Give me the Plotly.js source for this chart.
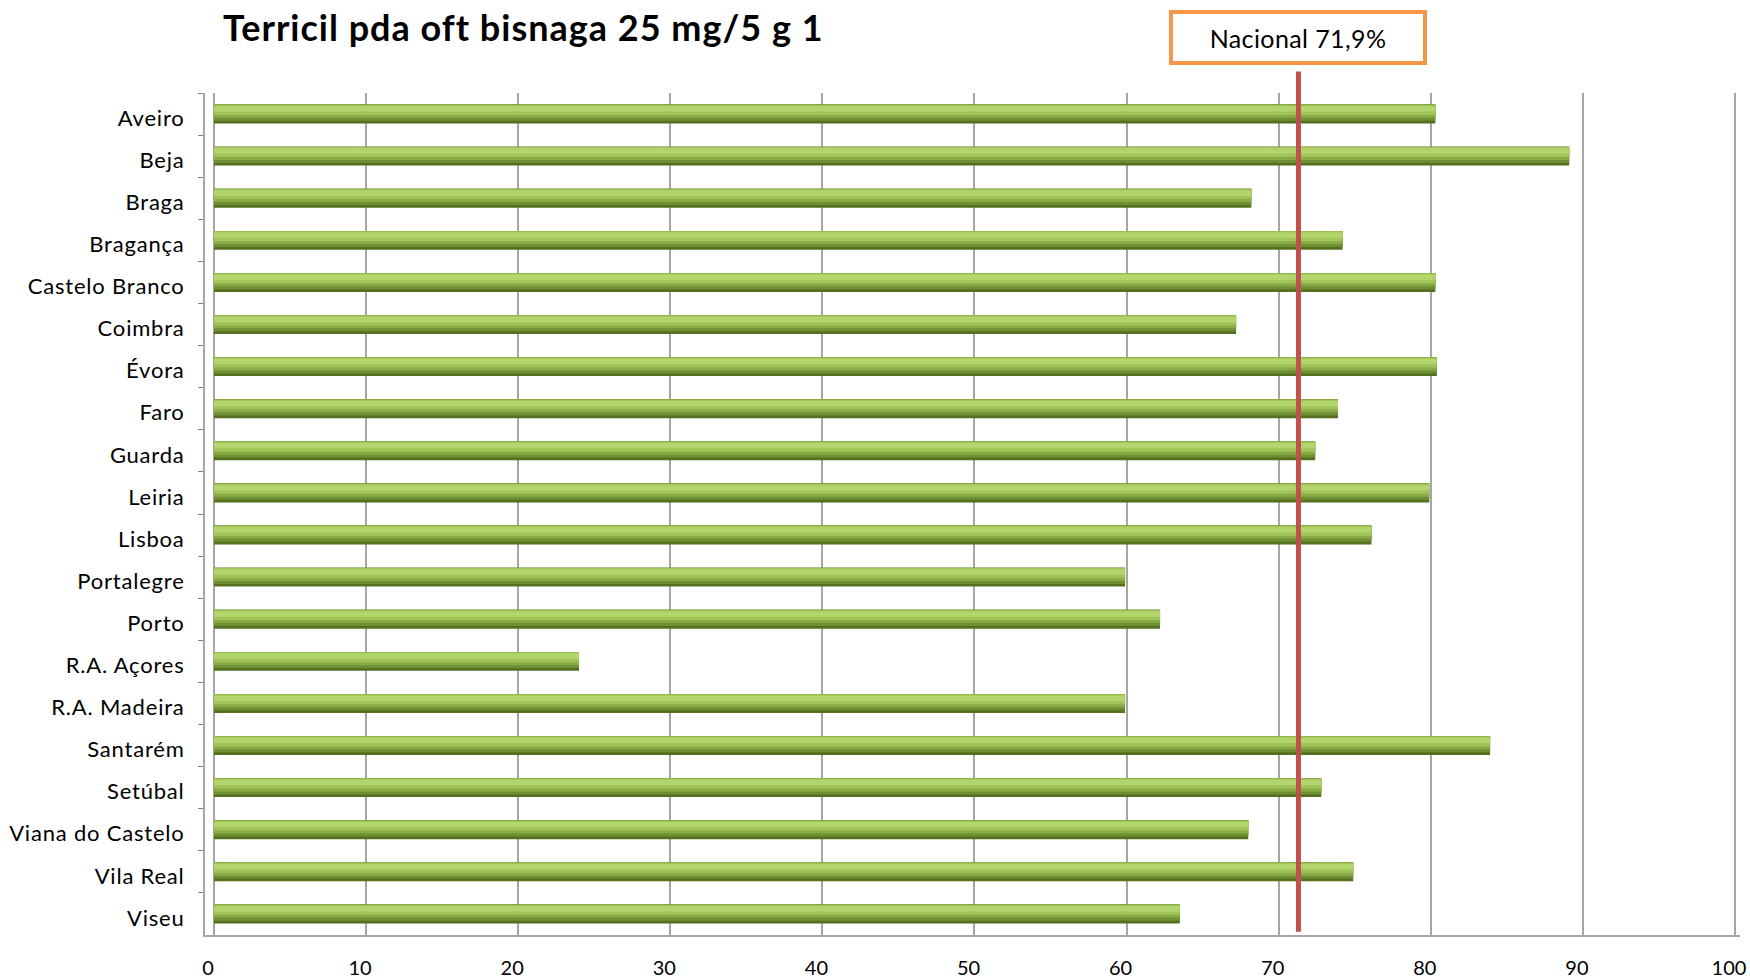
<!DOCTYPE html>
<html>
<head>
<meta charset="utf-8">
<script src="https://cdn.plot.ly/plotly-3.0.1.min.js"></script>
<style>
html,body{margin:0;padding:0;background:#fff;}
#chart{width:1750px;height:980px;}
#chart .ytick text{letter-spacing:0.8px;}
#chart .gtitle{letter-spacing:1px;}
#chart .annotation-text{letter-spacing:0.4px;}
</style>
</head>
<body>
<div id="chart"></div>
<script>
const districts = ["Aveiro","Beja","Braga","Bragança","Castelo Branco","Coimbra","Évora","Faro","Guarda","Leiria","Lisboa","Portalegre","Porto","R.A. Açores","R.A. Madeira","Santarém","Setúbal","Viana do Castelo","Vila Real","Viseu"];
const values = [80.3, 89.1, 68.2, 74.2, 80.3, 67.2, 80.4, 73.9, 72.4, 79.9, 76.1, 59.9, 62.2, 24.0, 59.9, 83.9, 72.8, 68.0, 74.9, 63.5];
const nationalLine = 71.3;
const nationalLabel = "Nacional 71,9%";
const chartTitle = "Terricil pda oft bisnaga 25 mg/5 g 1";
const xTicks = [0,10,20,30,40,50,60,70,80,90,100];

const FONT = "Lato, 'Open Sans', sans-serif";

function layer(color, top, bottom) {
  return {
    type: "bar", orientation: "h",
    x: values, y: districts,
    offset: top, width: bottom - top,
    marker: {color: color, line: {width: 0}},
    hoverinfo: "x+y", showlegend: false
  };
}

const traces = [
  layer("#55711f", -0.225, 0.225),
  layer("#6f8f34", -0.225, 0.16),
  layer("#88ab45", -0.225, 0.09),
  layer("#9fc458", -0.215, 0.02),
  layer("#b3d56d", -0.185, -0.06)
];

const layout = {
  width: 1750, height: 980,
  paper_bgcolor: "#ffffff", plot_bgcolor: "#ffffff",
  margin: {l: 205, r: 10, t: 93, b: 45},
  barmode: "overlay",
  title: {
    text: "<b>" + chartTitle + "</b>",
    font: {family: FONT, size: 36, color: "#000"},
    xref: "container", x: 223/1750, xanchor: "left",
    yref: "container", y: 1 - 28/980, yanchor: "middle"
  },
  xaxis: {
    range: [-0.59, 100.33],
    tickvals: xTicks, ticktext: xTicks.map(String),
    showgrid: true, gridcolor: "#a6a6a6", gridwidth: 2,
    zeroline: false,
    showline: true, linecolor: "#a6a6a6", linewidth: 2,
    ticks: "", ticklabelstandoff: 14, ticklabelshift: -6,
    tickfont: {family: FONT, size: 20, color: "#000"},
    fixedrange: true
  },
  yaxis: {
    type: "category", autorange: "reversed",
    showgrid: false, zeroline: false,
    showline: true, linecolor: "#a6a6a6", linewidth: 2,
    ticks: "outside", tickson: "boundaries", ticklen: 5, tickcolor: "#7f7f7f", tickwidth: 1,
    ticklabelstandoff: 14, ticklabelshift: -4,
    tickfont: {family: FONT, size: 22, color: "#000"},
    fixedrange: true
  },
  shapes: [
    {type: "line", xref: "x", yref: "paper", x0: nationalLine, x1: nationalLine,
     y0: 0.004, y1: 1.0255, line: {color: "#c0504d", width: 5}}
  ],
  annotations: [
    {xref: "x", yref: "paper", x: nationalLine, y: 1.0659, xanchor: "center", yanchor: "middle",
     text: nationalLabel, showarrow: false,
     font: {family: FONT, size: 25, color: "#000"},
     bgcolor: "#ffffff", bordercolor: "#f79646", borderwidth: 4, borderpad: 4,
     width: 242, height: 39}
  ]
};

Plotly.newPlot("chart", traces, layout, {displayModeBar: false, staticPlot: true});
</script>
</body>
</html>
